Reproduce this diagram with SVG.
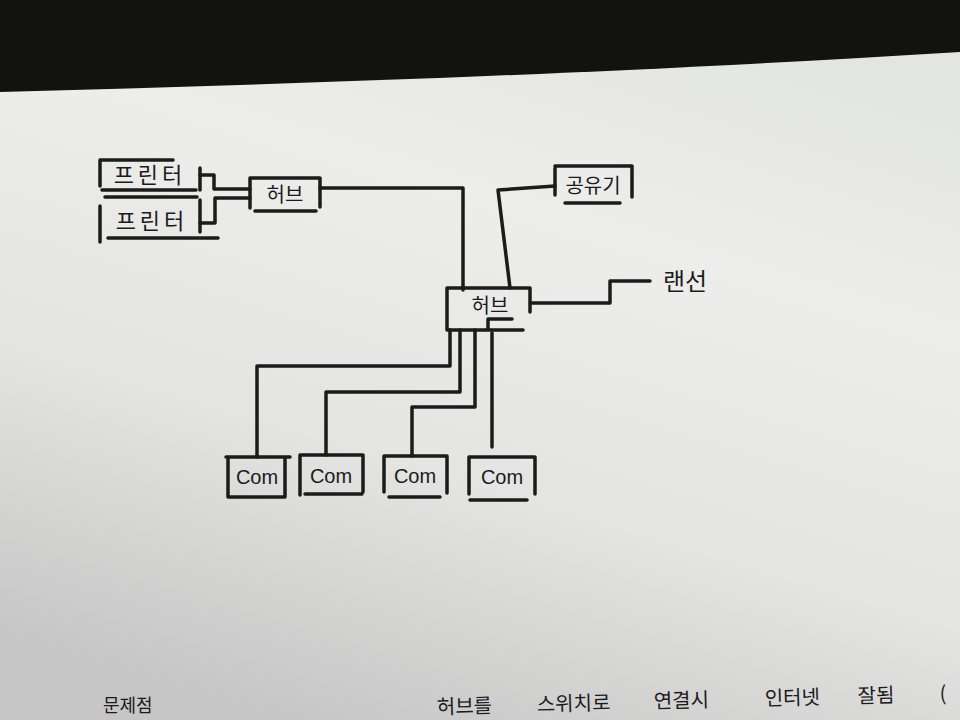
<svg xmlns="http://www.w3.org/2000/svg" width="960" height="720" viewBox="0 0 960 720">
<defs>
<linearGradient id="paper" x1="0.7" y1="0" x2="0.3" y2="1">
<stop offset="0" stop-color="#e3e5e2"/>
<stop offset="0.3" stop-color="#ededeb"/>
<stop offset="0.65" stop-color="#e4e4e3"/>
<stop offset="1" stop-color="#c6c6c6"/>
</linearGradient>
<style>
.ink{fill:none;stroke:#1b1b1b;stroke-width:3.5;stroke-linecap:round;stroke-linejoin:round}
.lbl{font-family:"Noto Sans CJK KR","Noto Sans",sans-serif;fill:#1b1b1b;text-anchor:middle}
.en{font-family:"Liberation Sans",Arial,sans-serif;fill:#1b1b1b;text-anchor:middle}
.note{font-family:"Noto Sans CJK KR","Noto Sans",sans-serif;fill:#1b1b1b}
</style>
</defs>
<rect x="0" y="0" width="960" height="720" fill="url(#paper)"/>
<path d="M0,0 H960 V52 C600,74 300,84 0,92 Z" fill="#121311"/>

<g id="printer1">
<path class="ink" d="M100,160 H173 M100,160 V186 M102,190 H196 M105,197 H197 M200,168 V190"/>
<text class="lbl" x="150" y="183" font-size="22" letter-spacing="4">프린터</text>
</g>
<g id="printer2">
<path class="ink" d="M100,206 V242 M108,238 H218 M200,200 V232"/>
<text class="lbl" x="152" y="229" font-size="22" letter-spacing="4">프린터</text>
</g>
<g id="hub1">
<path class="ink" d="M250,178 H320 V207 M250,178 V208 M255,211 H316"/>
<text class="lbl" x="285" y="202" font-size="20">허브</text>
</g>
<g id="router">
<path class="ink" d="M555,166 H632 V197 M555,168 V195 M565,203 H620"/>
<text class="lbl" x="593" y="193" font-size="20">공유기</text>
</g>
<g id="hub2">
<path class="ink" d="M447,288 H530 V312 M447,288 V330 M447,330 H523 M488,330 V319 H512"/>
<text class="lbl" x="490" y="313" font-size="20">허브</text>
</g>
<g id="lan">
<text class="lbl" x="685" y="290" font-size="24">랜선</text>
</g>
<g id="com1">
<path class="ink" d="M226,457 H290 M228,457 V497 M285,457 V497 M228,497 H285"/>
<text class="en" x="257" y="484" font-size="20">Com</text>
</g>
<g id="com2">
<path class="ink" d="M300,455 H363 V492 M300,455 V495 M305,494 H362"/>
<text class="en" x="331" y="483" font-size="20">Com</text>
</g>
<g id="com3">
<path class="ink" d="M384,456 H447 V493 M384,456 V492 M389,497 H440"/>
<text class="en" x="415" y="483" font-size="20">Com</text>
</g>
<g id="com4">
<path class="ink" d="M469,457 H535 V494 M469,457 V494 M470,500 H527"/>
<text class="en" x="502" y="484" font-size="20">Com</text>
</g>

<g id="connectors">
<path class="ink" d="M200,175 H214 V189 H250"/>
<path class="ink" d="M200,223 H215 V198 H250"/>
<path class="ink" d="M320,188 H463 V290"/>
<path class="ink" d="M555,186 L498,190 L510,288"/>
<path class="ink" d="M532,303 H610 V281 H650"/>
<path class="ink" d="M257,457 V366 H450 V330"/>
<path class="ink" d="M326,455 V392 H460 V330"/>
<path class="ink" d="M412,456 V407 H475 V330"/>
<path class="ink" d="M492,447 V333"/>
</g>

<g id="notes">
<text class="note" x="103" y="712" font-size="18">문제점</text>
<g transform="rotate(-1.5 437 714)">
<text class="note" x="437" y="714" font-size="20">허브를</text>
<text class="note" x="537" y="714" font-size="20">스위치로</text>
<text class="note" x="654" y="714" font-size="20">연결시</text>
<text class="note" x="765" y="714" font-size="20">인터넷</text>
<text class="note" x="858" y="714" font-size="20">잘됨</text>
<text class="note" x="940" y="714" font-size="20">(</text>
</g>
</g>
</svg>
